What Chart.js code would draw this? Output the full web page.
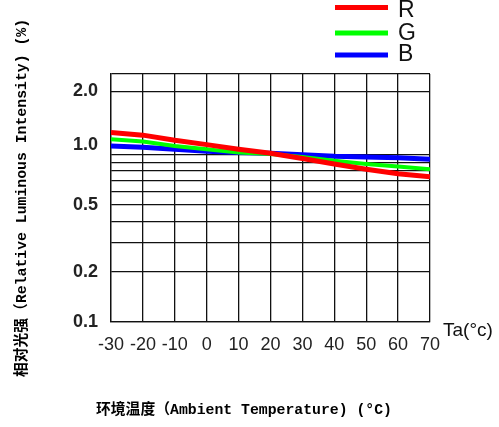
<!DOCTYPE html>
<html>
<head>
<meta charset="utf-8">
<script src="https://cdn.jsdelivr.net/npm/chart.js@4.4.1/dist/chart.umd.min.js"></script>
<style>
  html, body { margin: 0; padding: 0; background: #fff; }
  canvas { display: block; }
</style>
</head>
<body>
<canvas id="chart" width="499" height="427"></canvas>
<script>
// Ambient temperature (°C)
const temperatures = [-30, -20, -10, 0, 10, 20, 30, 40, 50, 60, 70];

// Relative luminous intensity
const redValues   = [1.36, 1.31, 1.22, 1.15, 1.08, 1.02, 0.95, 0.88, 0.82, 0.77, 0.74];
const greenValues = [1.24, 1.20, 1.13, 1.08, 1.03, 1.01, 0.97, 0.92, 0.88, 0.85, 0.82];
const blueValues  = [1.13, 1.11, 1.08, 1.05, 1.03, 1.02, 1.00, 0.98, 0.97, 0.96, 0.94];

const seriesNames = ['R', 'G', 'B'];

// Y axis: log grid lines, and which values get a label
const yGridValues = [0.1, 0.2, 0.3, 0.4, 0.5, 0.6, 0.7, 0.8, 0.9, 1.0];
const yLowLabels = [0.1, 0.2, 0.5];
const yHighLabels = [1.0, 2.0];

const toPoints = values => values.map((v, i) => ({ x: temperatures[i], y: v }));

const lineColor = '#111';
const tickFont = { family: "'Liberation Sans', Arial, sans-serif", size: 18 };
const titleFont = { family: "'Liberation Mono', 'Noto Sans CJK SC', monospace", size: 14.8, weight: 'bold' };

// legend R/G/B top right + "Ta(°c)" at the end of the x axis
const decorPlugin = {
    id: 'decor',
    afterDraw(chart) {
        const ctx = chart.ctx;
        const rows = [[7.5, 11], [33, 33.5], [55, 55]];
        ctx.save();
        chart.data.datasets.forEach((ds, i) => {
            const [lineY, textY] = rows[i];
            ctx.strokeStyle = ds.borderColor;
            ctx.lineWidth = 5;
            ctx.beginPath();
            ctx.moveTo(335, lineY);
            ctx.lineTo(388, lineY);
            ctx.stroke();
            ctx.fillStyle = '#111';
            ctx.font = "23px 'Liberation Sans', Arial, sans-serif";
            ctx.textBaseline = 'middle';
            ctx.fillText(ds.label, 398, textY);
        });
        const area = chart.chartArea;
        ctx.font = "19px 'Liberation Sans', Arial, sans-serif";
        ctx.textBaseline = 'alphabetic';
        ctx.fillStyle = '#111';
        ctx.fillText('Ta(°c)', area.right + 13, area.bottom + 14);
        ctx.restore();
    }
};

const chart = new Chart(document.getElementById('chart').getContext('2d'), {
    type: 'line',
    data: {
        datasets: [
            { label: seriesNames[0], data: toPoints(redValues), borderColor: '#ff0000', borderWidth: 5 },
            { label: seriesNames[1], data: toPoints(greenValues), borderColor: '#00ff00', borderWidth: 4 },
            { label: seriesNames[2], data: toPoints(blueValues), borderColor: '#0000ff', borderWidth: 5 }
        ]
    },
    options: {
        responsive: false,
        animation: false,
        devicePixelRatio: 1,
        // left padding keeps the bottom title centred like the original
        layout: { padding: { top: 74, right: 69, left: 58, bottom: 0 } },
        elements: { point: { radius: 0 }, line: { tension: 0 } },
        plugins: {
            legend: { display: false },
            tooltip: { enabled: false },
            title: {
                display: true,
                position: 'bottom',
                text: '环境温度（Ambient Temperature) (°C)',
                font: titleFont,
                color: '#000',
                padding: { top: 0, bottom: 8 }
            }
        },
        scales: {
            x: {
                type: 'linear',
                min: -30,
                max: 70,
                ticks: {
                    stepSize: 10,
                    autoSkip: false,
                    maxRotation: 0,
                    minRotation: 0,
                    font: tickFont,
                    color: '#222',
                    padding: 12
                },
                grid: { color: lineColor, lineWidth: 1.3, drawTicks: false },
                border: { color: lineColor, width: 1.3 },
                afterFit: s => { s.height = 79.2; }
            },
            y: {
                type: 'logarithmic',
                position: 'left',
                weight: 1,
                min: 0.1,
                max: 3.04,
                afterBuildTicks: s => { s.ticks = [...yGridValues, s.max].map(v => ({ value: v })); },
                ticks: {
                    autoSkip: false,
                    font: { ...tickFont, weight: 'bold' },
                    color: '#222',
                    padding: 13,
                    callback: v => yLowLabels.includes(v) ? v.toFixed(1) : ''
                },
                grid: { color: lineColor, lineWidth: 1.3, drawTicks: false },
                border: { color: lineColor, width: 1.3 },
                title: {
                    display: true,
                    text: '相对光强（Relative Luminous Intensity) (%)',
                    font: titleFont,
                    color: '#000',
                    padding: { top: -45, bottom: 0 }
                },
                afterFit: s => { s.width = 53; }
            },
            // second log axis, only for the "1.0" / "2.0" labels and the 2.0 line
            y2: {
                type: 'logarithmic',
                position: 'left',
                weight: 0,
                min: 0.1,
                max: 2.5,
                afterBuildTicks: s => { s.ticks = yHighLabels.map(v => ({ value: v })); },
                ticks: {
                    autoSkip: false,
                    mirror: true,
                    font: { ...tickFont, weight: 'bold' },
                    color: '#222',
                    padding: -38,
                    callback: v => v.toFixed(1)
                },
                grid: {
                    color: c => (c.tick && c.tick.value === 2.0) ? lineColor : 'rgba(0,0,0,0)',
                    lineWidth: 1.3,
                    drawTicks: false
                },
                border: { display: false },
                afterFit: s => { s.width = 0; }
            }
        }
    },
    plugins: [decorPlugin]
});
</script>
</body>
</html>
